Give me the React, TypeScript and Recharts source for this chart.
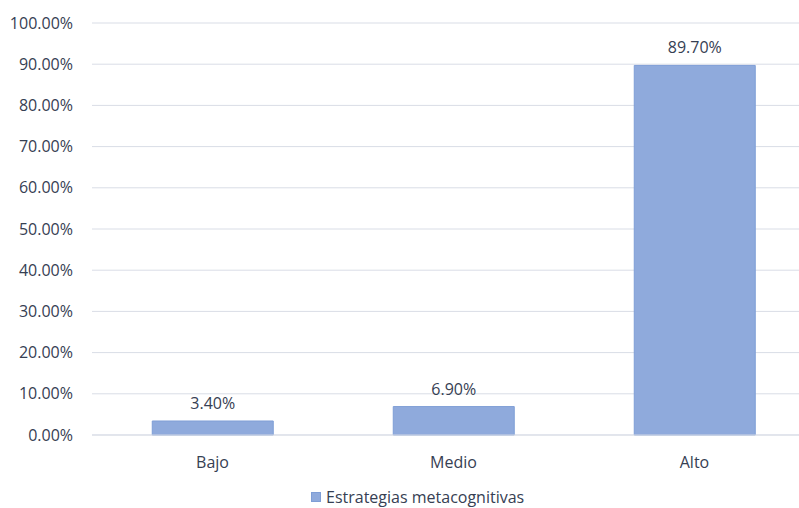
import { BarChart, Bar, XAxis, YAxis, CartesianGrid, LabelList, Legend } from 'recharts'

const niveles = ['Bajo', 'Medio', 'Alto']
const porcentajes = [3.4, 6.9, 89.7]
const yTicks = [0, 10, 20, 30, 40, 50, 60, 70, 80, 90, 100]
const serieNombre = 'Estrategias metacognitivas'

const data = niveles.map((nivel, i) => ({ nivel, valor: porcentajes[i] }))

const textColor = '#364053'
const barColor = '#8faadc'
const font = '"Open Sans", "Noto Sans", sans-serif'

function LegendBox() {
  return (
    <div style={{ display: 'flex', alignItems: 'center', fontSize: 16, color: textColor, fontFamily: font, lineHeight: '20px' }}>
      <span style={{ width: 10, height: 10, background: barColor, border: '1px solid #7f9ed6', boxSizing: 'border-box', marginRight: 5 }} />
      {serieNombre}
    </div>
  )
}

export default function App() {
  return (
    <div style={{ position: 'absolute', left: 0, top: 0, width: 799, height: 508, overflow: 'hidden', background: '#fff', fontFamily: font }}>
      <BarChart
        width={815}
        height={508}
        data={data}
        margin={{ top: 23, right: 0, left: 0, bottom: 0 }}
        barCategoryGap="25%"
      >
        <CartesianGrid vertical={false} stroke="#d9dde6" />
        <XAxis
          dataKey="nivel"
          axisLine={{ stroke: '#d9dde6' }}
          tickLine={false}
          tickMargin={16}
          height={53}
          tick={{ fontSize: 16, fill: textColor, fontFamily: font }}
        />
        <YAxis
          width={92}
          domain={[0, 100]}
          ticks={yTicks}
          interval={0}
          axisLine={false}
          tickLine={false}
          tickMargin={13}
          tickFormatter={(v: number) => v.toFixed(2) + '%'}
          tick={{ fontSize: 16, fill: textColor, fontFamily: font }}
        />
        <Legend
          verticalAlign="bottom"
          content={() => <LegendBox />}
          wrapperStyle={{ left: 311, width: 'auto', top: 487, height: 20 }}
        />
        <Bar
          dataKey="valor"
          name={serieNombre}
          fill={barColor}
          stroke="#7f9ed6"
          isAnimationActive={false}
        >
          <LabelList
            dataKey="valor"
            position="top"
            offset={12}
            formatter={(v: number) => v.toFixed(2) + '%'}
            style={{ fontSize: 16, fill: textColor, fontFamily: font }}
          />
        </Bar>
      </BarChart>
    </div>
  )
}
